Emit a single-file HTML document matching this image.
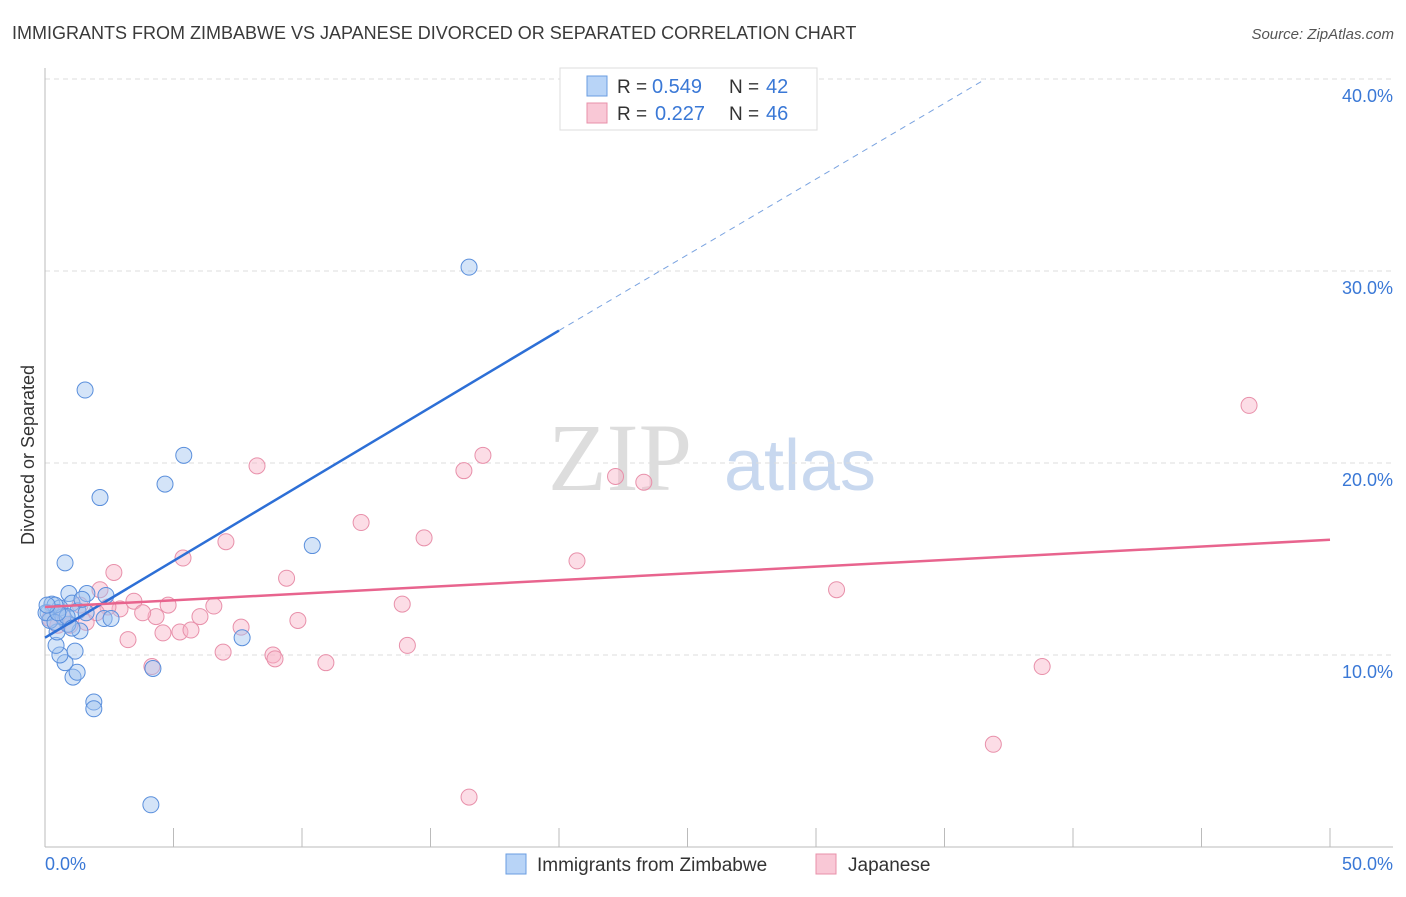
<!DOCTYPE html>
<html><head><meta charset="utf-8"><style>
body{margin:0;background:#fff;font-family:"Liberation Sans",sans-serif}
</style></head><body>
<svg width="1406" height="892" xmlns="http://www.w3.org/2000/svg" font-family="Liberation Sans, sans-serif">
<text x="12" y="39" font-size="18" fill="#3a3a3a">IMMIGRANTS FROM ZIMBABWE VS JAPANESE DIVORCED OR SEPARATED CORRELATION CHART</text>
<text x="1394" y="39" font-size="15" fill="#555" font-style="italic" text-anchor="end">Source: ZipAtlas.com</text>
<text x="620" y="490" font-size="96" fill="#ddd" font-family="Liberation Serif, serif" text-anchor="middle">ZIP</text>
<text x="800" y="490" font-size="72" fill="#c8d8ef" text-anchor="middle">atlas</text>
<text transform="translate(34,455) rotate(-90)" font-size="18" fill="#333" text-anchor="middle">Divorced or Separated</text>
<g id="grid"></g><g id="pts"></g><g id="lines"></g>
<g>
<rect x="560" y="68" width="257" height="62" fill="#fff" stroke="#ddd"/>
<rect x="587" y="76" width="20" height="20" fill="#b8d4f7" stroke="#6a9de0"/>
<rect x="587" y="103" width="20" height="20" fill="#f9c8d6" stroke="#e890aa"/>
<text x="617" y="93" font-size="19" fill="#333">R =</text>
<text x="652" y="93" font-size="20" fill="#3a78d6">0.549</text>
<text x="729" y="93" font-size="19" fill="#333">N =</text>
<text x="766" y="93" font-size="20" fill="#3a78d6">42</text>
<text x="617" y="120" font-size="19" fill="#333">R =</text>
<text x="655" y="120" font-size="20" fill="#3a78d6">0.227</text>
<text x="729" y="120" font-size="19" fill="#333">N =</text>
<text x="766" y="120" font-size="20" fill="#3a78d6">46</text>
</g>
<g>
<rect x="506" y="854" width="20" height="20" fill="#b8d4f7" stroke="#6a9de0"/>
<text x="537" y="871" font-size="19" fill="#333">Immigrants from Zimbabwe</text>
<rect x="816" y="854" width="20" height="20" fill="#f9c8d6" stroke="#e890aa"/>
<text x="848" y="871" font-size="19" fill="#333">Japanese</text>
</g>
<text x="45" y="870" font-size="18" fill="#3a78d6">0.0%</text>
<text x="1393" y="870" font-size="18" fill="#3a78d6" text-anchor="end">50.0%</text>
</svg>
<script>
const yTicks=[10,20,30,40];
const blueX=[16.5,1.56,5.4,4.67,2.14,10.4,0.78,7.67,4.2,4.12,1.9,1.9,1.09,1.25,0.78,0.58,1.17,0.43,0.47,1.36,0.89,2.3,2.57,2.37,1.63,0.93,1.05,0.27,0.12,0.19,0.58,0.7,1.28,0.39,0.04,0.39,1.6,0.86,0.5,0.08,1.05,1.44];
const blueY=[30.2,23.8,20.4,18.9,18.2,15.7,14.8,10.9,9.3,2.2,7.55,7.2,8.85,9.1,9.6,10.0,10.2,10.5,11.2,11.25,11.6,11.9,11.9,13.1,13.2,13.2,12.7,12.65,12.2,11.8,12.45,12.0,12.3,12.6,12.2,11.7,12.2,12.0,12.2,12.6,11.4,12.9];
const pinkX=[46.85,17.04,16.3,22.2,23.3,8.25,12.3,14.75,7.04,5.37,20.7,2.68,9.4,30.8,13.9,6.57,4.79,3.46,9.84,6.03,4.32,2.92,3.8,2.45,3.23,4.59,5.25,5.68,7.63,6.93,14.1,8.87,8.95,10.93,4.16,38.8,36.9,16.5,1.6,2.0,0.66,0.97,0.19,1.36,2.14,0.5];
const pinkY=[23.0,20.4,19.6,19.3,19.0,19.85,16.9,16.1,15.9,15.05,14.9,14.3,14.0,13.4,12.65,12.55,12.6,12.8,11.8,12.0,12.0,12.4,12.2,12.5,10.8,11.15,11.2,11.3,11.45,10.15,10.5,10.0,9.8,9.6,9.4,9.4,5.35,2.6,11.7,12.2,12.1,11.55,11.9,12.6,13.4,11.55];
const blueTrend=[[0,10.9],[20,26.9],[36.6,40.0]];
const pinkTrend=[[0,12.5],[50,16.0]];
const sx=v=>45+v*25.7, sy=v=>847-v*19.2;
const NS='http://www.w3.org/2000/svg';
function mk(t,a,p){const e=document.createElementNS(NS,t);for(const k in a)e.setAttribute(k,a[k]);p.appendChild(e);return e;}
const grid=document.getElementById('grid');
yTicks.forEach(t=>{
 const l=mk('line',{x1:45,x2:1393,y1:sy(t),y2:sy(t),stroke:'#ddd','stroke-dasharray':'5,4'},grid);
 
 
 const tx=mk('text',{x:1393,y:sy(t)+23,'font-size':18,fill:'#3a78d6','text-anchor':'end'},grid);
 tx.textContent=t.toFixed(1)+'%';
 
 
});
mk('line',{x1:45,x2:45,y1:68,y2:847,stroke:'#bbb'},grid);
mk('line',{x1:45,x2:1393,y1:847,y2:847,stroke:'#bbb'},grid);
for(let i=0;i<=10;i++){mk('line',{x1:sx(i*5),x2:sx(i*5),y1:828,y2:847,stroke:'#bbb'},grid);}
const pts=document.getElementById('pts');
pinkX.forEach((x,i)=>{const c=mk('circle',{cx:sx(x),cy:sy(pinkY[i]),r:8,fill:'rgba(249,180,200,0.45)',stroke:'#e890aa','stroke-width':1},pts);
 
 });
blueX.forEach((x,i)=>{const c=mk('circle',{cx:sx(x),cy:sy(blueY[i]),r:8,fill:'rgba(160,195,240,0.45)',stroke:'#5a8fdc','stroke-width':1},pts);
 
 });
const lines=document.getElementById('lines');
const b1=mk('line',{x1:sx(blueTrend[0][0]),y1:sy(blueTrend[0][1]),x2:sx(blueTrend[1][0]),y2:sy(blueTrend[1][1]),stroke:'#2d6fd6','stroke-width':2.5},lines);


const b2=mk('line',{x1:sx(blueTrend[1][0]),y1:sy(blueTrend[1][1]),x2:sx(blueTrend[2][0]),y2:sy(blueTrend[2][1]),stroke:'#7aa3e0','stroke-width':1,'stroke-dasharray':'6,5'},lines);


const p1=mk('line',{x1:sx(pinkTrend[0][0]),y1:sy(pinkTrend[0][1]),x2:sx(pinkTrend[1][0]),y2:sy(pinkTrend[1][1]),stroke:'#e8648e','stroke-width':2.5},lines);


</script>
</body></html>
